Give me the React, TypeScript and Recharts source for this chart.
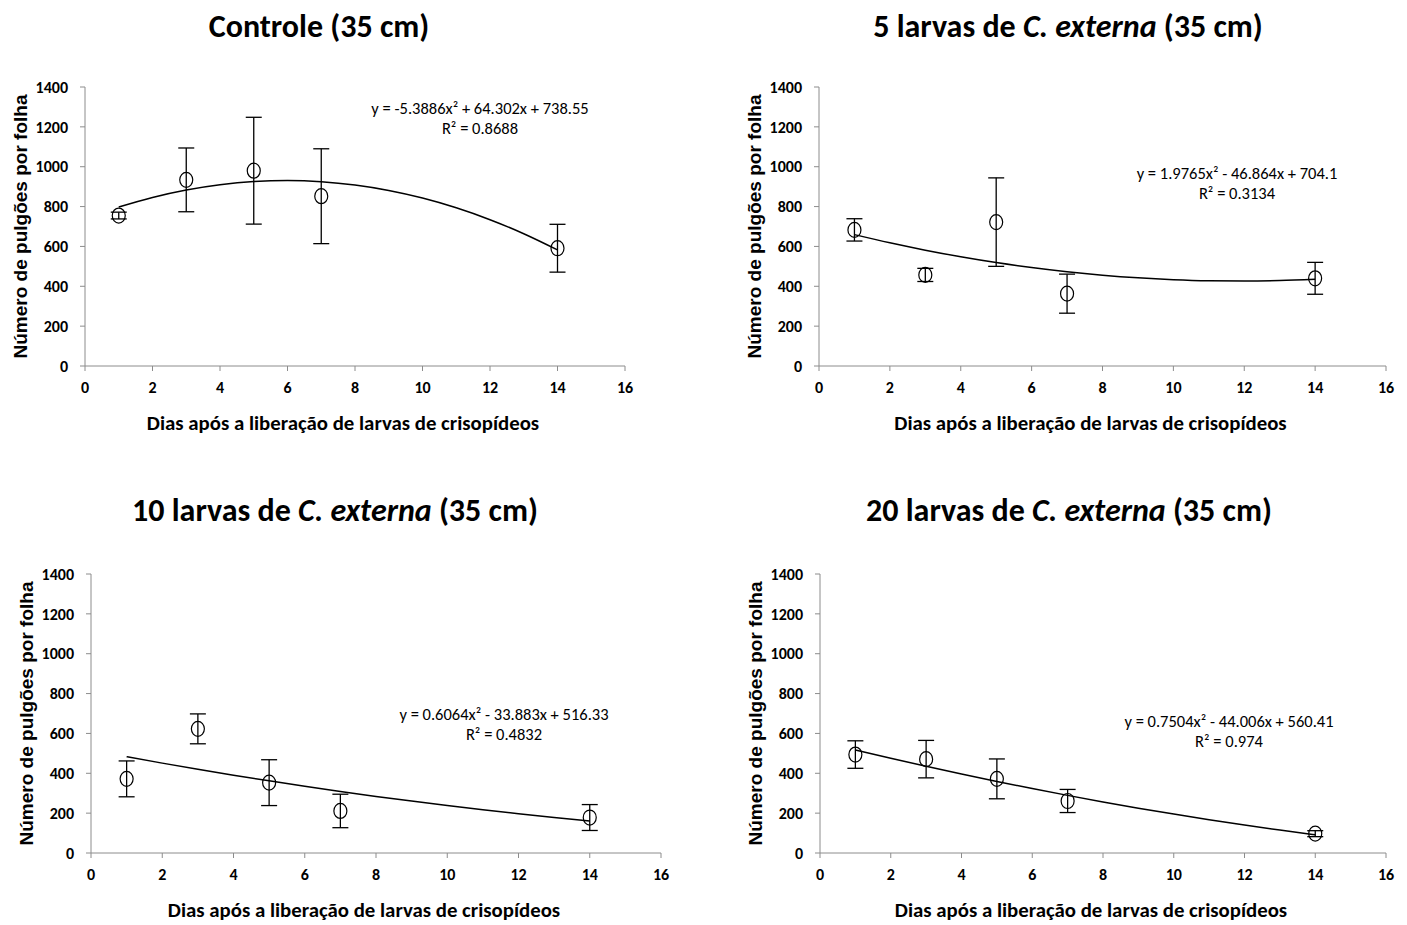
import React from "react";
import { ComposedChart, XAxis, YAxis, Line, Scatter, ErrorBar } from "recharts";

// ---------- data ----------
const days = [1, 3, 5, 7, 14];
const curveDays = [1, 2, 3, 4, 5, 6, 7, 8, 9, 10, 11, 12, 13, 14];

const controleMean = [755, 934, 980, 852, 591];
const controleErr = [17, 160, 268, 238, 120];
const controleFit = [797.5, 845.6, 883.0, 909.5, 925.4, 930.4, 924.6, 908.1, 880.8, 842.7, 793.9, 734.2, 663.8, 582.6];

const l5Mean = [683, 457, 722, 363, 440];
const l5Err = [56, 33, 222, 98, 80];
const l5Fit = [659.2, 618.3, 581.3, 548.3, 519.2, 494.1, 472.9, 455.7, 442.4, 433.1, 427.8, 426.4, 428.9, 435.4];

const l10Mean = [372, 623, 353, 211, 178];
const l10Err = [90, 75, 115, 84, 65];
const l10Fit = [483.1, 451.0, 420.1, 390.5, 362.1, 334.9, 308.9, 284.1, 260.5, 238.1, 217.0, 197.1, 178.3, 160.8];

const l20Mean = [494, 471, 372, 261, 97];
const l20Err = [69, 94, 100, 58, 15];
const l20Fit = [517.2, 475.4, 435.2, 396.4, 359.1, 323.4, 289.1, 256.4, 225.1, 195.4, 167.1, 140.4, 115.2, 91.4];

const xTicks = [0, 2, 4, 6, 8, 10, 12, 14, 16];
const yTicks = [0, 200, 400, 600, 800, 1000, 1200, 1400];

const yLabel = "Número de pulgões por folha";
const xLabel = "Dias após a liberação de larvas de crisopídeos";

// ---------- styles ----------
const CAL = "Carlito, Lato, 'Open Sans', sans-serif";
const ARIAL = "'Liberation Sans', Arial, sans-serif";
const AXIS = "#8c8c8c";

type PanelProps = {
  left: number;
  top: number;
  width: number;
  height: number;
  margin: { top: number; right: number; bottom: number; left: number };
  mean: number[];
  err: number[];
  fit: number[];
  title: React.ReactNode;
  titleX: number;
  titleY: number;
  eq: string;
  r2: string;
  eqX: number;
  eqY: number;
};

const Marker = (p: any) => {
  if (p.cx == null || p.cy == null) return null;
  return <ellipse cx={p.cx} cy={p.cy} rx={6.5} ry={7.5} fill="none" stroke="#000" strokeWidth={1.2} />;
};

function Panel(props: PanelProps) {
  const pts = days.map((d, i) => ({ x: d, y: props.mean[i], e: props.err[i] }));
  const curve = curveDays.map((d, i) => ({ x: d, y: props.fit[i] }));
  return (
    <div style={{ position: "absolute", left: props.left, top: props.top, width: props.width, height: props.height }}>
      <ComposedChart width={props.width} height={props.height} margin={props.margin}>
        <XAxis
          type="number"
          dataKey="x"
          domain={[0, 16]}
          ticks={xTicks}
          allowDataOverflow
          height={40}
          stroke={AXIS}
          tickSize={5}
          tickMargin={11}
          tick={{ fill: "#000", fontSize: 16, fontWeight: 700, fontFamily: CAL }}
          label={{
            content: (lp: any) => {
              const vb = lp.viewBox || {};
              return (
                <text
                  x={vb.x + vb.width / 2 - 12}
                  y={vb.y + 57}
                  textAnchor="middle"
                  dominantBaseline="central"
                  style={{ fontFamily: CAL, fontWeight: 700, fontSize: 20.8 }}
                  fill="#000"
                >
                  {xLabel}
                </text>
              );
            },
          }}
        />
        <YAxis
          type="number"
          dataKey="y"
          domain={[0, 1400]}
          ticks={yTicks}
          allowDataOverflow
          width={40}
          stroke={AXIS}
          tickSize={5}
          tickMargin={12}
          tick={{ fill: "#000", fontSize: 16, fontWeight: 700, fontFamily: CAL }}
          label={{
            content: (lp: any) => {
              const vb = lp.viewBox || {};
              const cx = vb.x + vb.width - 65;
              const cy = vb.y + vb.height / 2;
              return (
                <text
                  x={cx}
                  y={cy}
                  transform={`rotate(-90 ${cx} ${cy})`}
                  textAnchor="middle"
                  dominantBaseline="central"
                  style={{ fontFamily: ARIAL, fontWeight: 700, fontSize: 19 }}
                  fill="#000"
                >
                  {yLabel}
                </text>
              );
            },
          }}
        />
        <Line
          data={curve}
          dataKey="y"
          type="monotone"
          stroke="#000"
          strokeWidth={1.5}
          dot={false}
          activeDot={false}
          isAnimationActive={false}
        />
        <Scatter data={pts} dataKey="y" shape={Marker} isAnimationActive={false}>
          <ErrorBar dataKey="e" direction="y" width={8} stroke="#000" strokeWidth={1.3} isAnimationActive={false} />
        </Scatter>
      </ComposedChart>
      <div
        style={{
          position: "absolute",
          left: props.titleX - 350,
          top: props.titleY - 17,
          width: 700,
          lineHeight: "32px",
          textAlign: "center",
          fontFamily: CAL,
          fontWeight: 700,
          fontSize: 32,
          color: "#000",
          whiteSpace: "nowrap",
        }}
      >
        {props.title}
      </div>
      <div
        style={{
          position: "absolute",
          left: props.eqX - 200,
          top: props.eqY - 10,
          width: 400,
          textAlign: "center",
          fontFamily: CAL,
          fontSize: 16.5,
          lineHeight: "20px",
          color: "#000",
          whiteSpace: "nowrap",
        }}
      >
        <div>{props.eq}</div>
        <div>{props.r2}</div>
      </div>
    </div>
  );
}

const ext = (n: string) => (
  <span>
    {n} larvas de <i>C. externa</i> (35 cm)
  </span>
);

export default function App() {
  return (
    <div style={{ position: "absolute", left: 0, top: 0, width: 1407, height: 925, background: "#fff" }}>
      <Panel
        left={0}
        top={0}
        width={700}
        height={460}
        margin={{ top: 87, right: 75, bottom: 54, left: 45 }}
        mean={controleMean}
        err={controleErr}
        fit={controleFit}
        title="Controle (35 cm)"
        titleX={319}
        titleY={28}
        eq="y = -5.3886x² + 64.302x + 738.55"
        r2="R² = 0.8688"
        eqX={480}
        eqY={108}
      />
      <Panel
        left={700}
        top={0}
        width={707}
        height={460}
        margin={{ top: 87, right: 21, bottom: 54, left: 79 }}
        mean={l5Mean}
        err={l5Err}
        fit={l5Fit}
        title={ext("5")}
        titleX={368}
        titleY={28}
        eq="y = 1.9765x² - 46.864x + 704.1"
        r2="R² = 0.3134"
        eqX={537}
        eqY={173}
      />
      <Panel
        left={0}
        top={460}
        width={700}
        height={465}
        margin={{ top: 114, right: 39, bottom: 32, left: 51 }}
        mean={l10Mean}
        err={l10Err}
        fit={l10Fit}
        title={ext("10")}
        titleX={335}
        titleY={52}
        eq="y = 0.6064x² - 33.883x + 516.33"
        r2="R² = 0.4832"
        eqX={504}
        eqY={254}
      />
      <Panel
        left={700}
        top={460}
        width={707}
        height={465}
        margin={{ top: 114, right: 21, bottom: 32, left: 80 }}
        mean={l20Mean}
        err={l20Err}
        fit={l20Fit}
        title={ext("20")}
        titleX={369}
        titleY={52}
        eq="y = 0.7504x² - 44.006x + 560.41"
        r2="R² = 0.974"
        eqX={529}
        eqY={261}
      />
    </div>
  );
}
